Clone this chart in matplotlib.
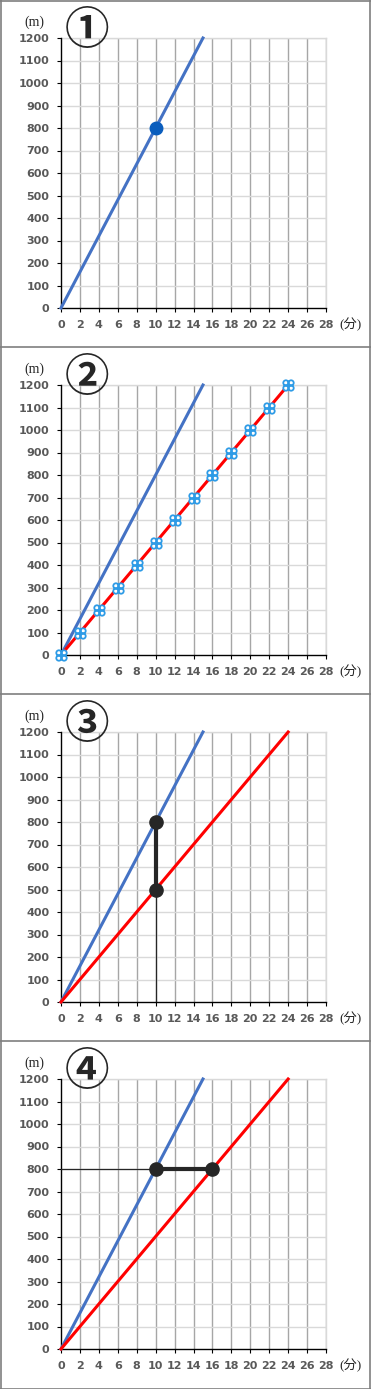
import matplotlib.pyplot as plt
import numpy as np
from matplotlib.path import Path
from matplotlib.lines import Line2D

plt.rcParams['font.family'] = ['DejaVu Sans', 'Noto Sans CJK JP']

# データ
blue_t = [0, 15]
blue_d = [0, 1200]
red_t = [0, 24]
red_d = [0, 1200]
mark_t = [0, 2, 4, 6, 8, 10, 12, 14, 16, 18, 20, 22, 24]
mark_d = [0, 100, 200, 300, 400, 500, 600, 700, 800, 900, 1000, 1100, 1200]
p1_dot = (10, 800)
p3_dots_t = [10, 10]
p3_dots_d = [800, 500]
p4_dots_t = [10, 16]
p4_dots_d = [800, 800]
x_ticks = list(range(0, 29, 2))
y_ticks = list(range(0, 1201, 100))
panel_nums = ['①', '②', '③', '④']

c_blue = '#4472C4'
c_red = '#FF0000'
c_dot = '#262626'
c_grid_v = '#A6A6A6'
c_grid_h = '#D9D9D9'
c_label = '#595959'

W, H = 371, 1389
PH = 347

# 四つ葉のマーカー
quad = Path.make_compound_path(*[
    Path.circle((dx, dy), 0.5) for dx, dy in [(-0.5, -0.5), (0.5, -0.5), (-0.5, 0.5), (0.5, 0.5)]
])

fig = plt.figure(figsize=(W / 100, H / 100), dpi=100)

for k in range(4):
    o = k * PH
    ax = fig.add_axes([61 / W, 1 - (o + 308) / H, 265 / W, 270 / H])
    ax.set_xlim(0, 28)
    ax.set_ylim(0, 1200)
    ax.set_xticks(x_ticks)
    ax.set_yticks(y_ticks)
    for t in x_ticks[1:]:
        ax.axvline(t, color=c_grid_v, lw=1.0, zorder=0)
    for t in y_ticks[1:]:
        ax.axhline(t, color=c_grid_h, lw=1.0, zorder=0)
    for s in ['top', 'right']:
        ax.spines[s].set_color(c_grid_h)
        ax.spines[s].set_linewidth(1.0)
        ax.spines[s].set_zorder(0)
    for s in ['left', 'bottom']:
        ax.spines[s].set_color('black')
        ax.spines[s].set_linewidth(1.0)
    ax.tick_params(direction='out', length=3, width=0.8, color='black', pad=5.5,
                   labelsize=8, labelcolor=c_label)
    for lab in ax.get_xticklabels() + ax.get_yticklabels():
        lab.set_fontweight('bold')

    ax.plot(blue_t, blue_d, color=c_blue, lw=2.2, zorder=3, clip_on=False)

    if k == 0:
        ax.plot([p1_dot[0]], [p1_dot[1]], 'o', color='#0A5DBD', ms=9, zorder=5)
    if k >= 1:
        ax.plot(red_t, red_d, color=c_red, lw=2.2, zorder=3, clip_on=False)
    if k == 1:
        ax.plot(mark_t, mark_d, ls='none', marker=quad, ms=7.5, mfc='white',
                mec='#2E9BE6', mew=1.3, zorder=5, clip_on=False)
    if k == 2:
        ax.plot([10, 10], [0, 500], color=c_dot, lw=0.9, zorder=4)
        ax.plot(p3_dots_t, p3_dots_d, color=c_dot, lw=3, zorder=4)
        ax.plot(p3_dots_t, p3_dots_d, 'o', color=c_dot, ms=9.5, zorder=5)
    if k == 3:
        ax.plot([0, 10], [800, 800], color=c_dot, lw=0.9, zorder=4)
        ax.plot(p4_dots_t, p4_dots_d, color=c_dot, lw=3, zorder=4)
        ax.plot(p4_dots_t, p4_dots_d, 'o', color=c_dot, ms=9.5, zorder=5)

    # ラベル
    fig.text(34 / W, 1 - (o + 22) / H, '(m)', fontsize=10, ha='center', va='center',
             family=['Liberation Serif'], color='#262626')
    fig.text(351 / W, 1 - (o + 325) / H, '(分)', fontsize=9.5, ha='center', va='center',
             family=['Liberation Serif', 'Noto Sans CJK JP'], color='#262626')
    fig.text(87 / W, 1 - (o + 31) / H, panel_nums[k], fontsize=32, ha='center', va='center',
             family=['Noto Sans CJK JP'], fontweight='bold', color='#262626')

# 枠線
frame = '#7F7F7F'
fig.add_artist(Line2D([0.5 / W, 0.5 / W], [0, 1], color=frame, lw=1.2, transform=fig.transFigure))
fig.add_artist(Line2D([1 - 0.8 / W, 1 - 0.8 / W], [0, 1], color=frame, lw=1.2, transform=fig.transFigure))
fig.add_artist(Line2D([0, 1], [1 - 0.5 / H, 1 - 0.5 / H], color=frame, lw=1.2, transform=fig.transFigure))
fig.add_artist(Line2D([0, 1], [0.5 / H, 0.5 / H], color=frame, lw=1.2, transform=fig.transFigure))
for k in range(1, 4):
    yy = 1 - (k * PH) / H
    fig.add_artist(Line2D([0, 1], [yy, yy], color=frame, lw=1.2, transform=fig.transFigure))

fig.savefig('out.png', dpi=100)
